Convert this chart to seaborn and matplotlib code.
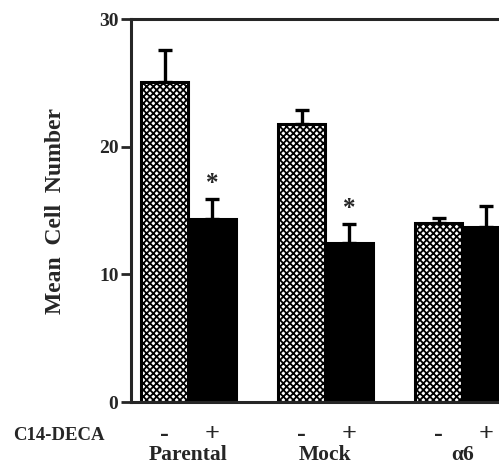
import matplotlib
matplotlib.use("Agg")
import matplotlib.pyplot as plt
import seaborn as sns
import pandas as pd
import numpy as np

groups = ["Parental", "Mock", "α6"]
treatments = ["-", "+"]
means_minus = [25.1, 21.8, 14.0]
means_plus = [14.35, 12.45, 13.7]
err_minus = [2.5, 1.1, 0.4]
err_plus = [1.55, 1.5, 1.65]
significant_plus = [True, True, False]
yticks = [0, 10, 20, 30]

df = pd.DataFrame({
    "group": groups * 2,
    "treatment": ["-"] * 3 + ["+"] * 3,
    "value": means_minus + means_plus,
    "err": err_minus + err_plus,
})

sns.set_style("ticks")
plt.rcParams["font.family"] = ["Liberation Serif", "DejaVu Serif"]
plt.rcParams["font.weight"] = "bold"
plt.rcParams["hatch.linewidth"] = 1.3

fig = plt.figure(figsize=(4.99, 4.67), dpi=100)
ax = fig.add_axes([0.2625, 0.139, 0.76, 0.82])

sns.barplot(data=df, x="group", y="value", hue="treatment", order=groups,
            hue_order=treatments, palette={"-": "white", "+": "black"},
            width=0.69, errorbar=None, edgecolor="black", linewidth=2.2,
            legend=False, ax=ax)

bars = [p for p in ax.patches if p.get_height() > 0]
for p in bars:
    if p.get_facecolor()[0] > 0.5:
        p.set_hatch("xxxxx")

# error bars (upper only)
for p in bars:
    cx = p.get_x() + p.get_width() / 2
    h = p.get_height()
    sub = df[np.isclose(df["value"], h)]
    e = float(sub["err"].iloc[0])
    ax.errorbar([cx], [h], yerr=[[0], [e]], fmt="none", ecolor="black",
                elinewidth=2.4, capsize=5, capthick=2.4, zorder=5)
    t = sub["treatment"].iloc[0]
    g = sub["group"].iloc[0]
    if t == "+" and significant_plus[groups.index(g)]:
        ax.text(cx, h + e + 0.35, "*", ha="center", va="bottom",
                fontsize=18, fontweight="bold")

ax.set_ylim(0, 30)
ax.set_xlim(-0.42, 2.35)
ax.set_yticks(yticks)
ax.set_yticklabels([str(v) for v in yticks], fontsize=14, fontweight="bold")
ax.tick_params(axis="y", length=7, width=2, direction="out", pad=2)

# x labels: group names (major) and -/+ (minor)
centers = sorted(set(round(p.get_x() + p.get_width() / 2, 4) for p in bars))
ax.set_xticks(range(len(groups)))
ax.set_xticklabels(groups, fontsize=15.5, fontweight="bold")
ax.set_xticks(centers, minor=True)
ax.set_xticklabels(treatments * len(groups), minor=True, fontsize=19,
                   fontweight="bold")
ax.tick_params(axis="x", which="major", length=0, pad=31)
ax.tick_params(axis="x", which="minor", length=0, pad=15)
ax.set_xlabel("")
ax.set_ylabel("Mean  Cell  Number", fontsize=17, fontweight="bold", labelpad=24)

fig.text(0.026, 0.067, "C14-DECA", fontsize=13.5, fontweight="bold",
         ha="left", va="center")

for s in ["left", "bottom", "top"]:
    ax.spines[s].set_linewidth(2.2)
    ax.spines[s].set_visible(True)
ax.spines["right"].set_visible(False)

fig.savefig("out.png", dpi=100)
